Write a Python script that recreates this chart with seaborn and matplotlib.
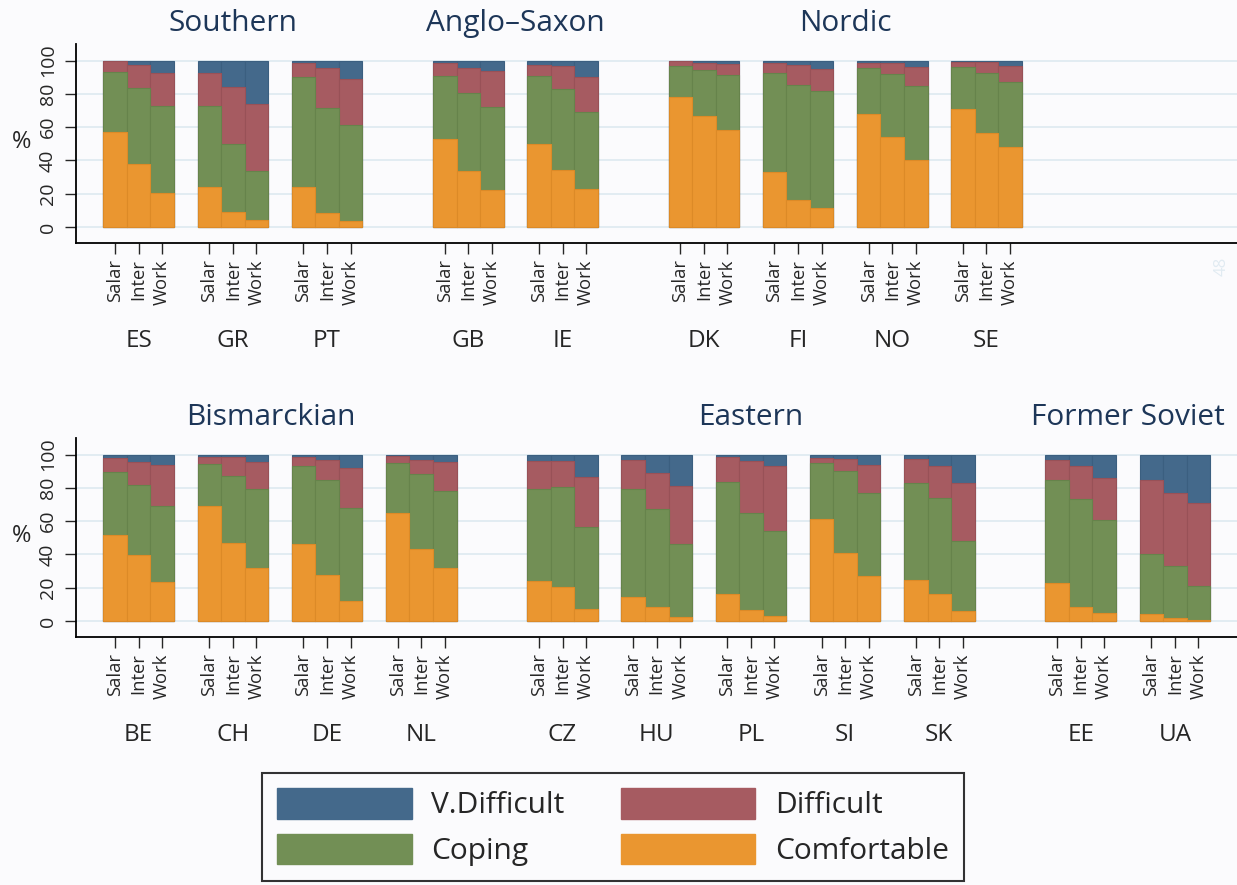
import matplotlib
matplotlib.use("Agg")
import matplotlib.pyplot as plt
from matplotlib.patches import Patch
from matplotlib.transforms import blended_transform_factory
import numpy as np
import seaborn as sns

sns.set_style("ticks")
plt.rcParams["font.family"] = ["Open Sans", "DejaVu Sans"]

# ---- data: shares (%) per country, in order Salar / Inter / Work ----
measures = ["Salar", "Inter", "Work"]
categories = ["V.Difficult", "Difficult", "Coping", "Comfortable"]

top_countries = ["ES", "GR", "PT", "GB", "IE", "DK", "FI", "NO", "SE"]
top_starts = [1, 5, 9, 15, 19, 25, 29, 33, 37]
top_regimes = [("Southern", ["ES", "GR", "PT"]),
               ("Anglo\u2013Saxon", ["GB", "IE"]),
               ("Nordic", ["DK", "FI", "NO", "SE"])]
top_comfortable = [57.1, 38.1, 20.2, 23.8, 9.0, 4.0, 23.8, 8.4, 3.6,
                   52.9, 33.7, 22.0, 49.7, 34.1, 22.8,
                   78.4, 66.5, 58.3, 32.9, 16.4, 11.4, 67.7, 54.3, 40.1, 70.9, 56.5, 47.9]
top_coping = [36.3, 45.5, 52.3, 49.1, 40.9, 29.5, 66.2, 63.1, 57.5,
              37.9, 46.9, 49.9, 41.1, 48.9, 46.5,
              18.2, 27.7, 33.1, 59.5, 69.2, 70.2, 27.7, 37.7, 44.5, 25.1, 36.1, 39.5]
top_difficult = [6.1, 13.8, 20.3, 19.9, 34.1, 40.4, 8.6, 23.9, 27.9,
                 7.8, 15.0, 22.1, 6.6, 14.0, 20.7,
                 2.9, 4.4, 6.8, 6.2, 11.6, 13.6, 3.2, 6.6, 11.4, 3.2, 6.4, 9.2]
top_vdifficult = [0.5, 2.6, 7.2, 7.2, 16.0, 26.1, 1.4, 4.6, 11.0,
                  1.4, 4.4, 6.0, 2.6, 3.0, 10.0,
                  0.5, 1.4, 1.8, 1.4, 2.8, 4.8, 1.4, 1.4, 4.0, 0.8, 1.0, 3.4]

bottom_countries = ["BE", "CH", "DE", "NL", "CZ", "HU", "PL", "SI", "SK", "EE", "UA"]
bottom_starts = [1, 5, 9, 13, 19, 23, 27, 31, 35, 41, 45]
bottom_regimes = [("Bismarckian", ["BE", "CH", "DE", "NL"]),
                  ("Eastern", ["CZ", "HU", "PL", "SI", "SK"]),
                  ("Former Soviet", ["EE", "UA"])]
bottom_comfortable = [51.9, 39.7, 23.4, 69.1, 46.7, 32.1, 46.5, 27.7, 12.2, 65.1, 43.1, 31.9,
                      23.8, 20.4, 7.2, 14.4, 8.6, 2.4, 16.4, 6.8, 3.2, 61.1, 40.9, 26.9,
                      24.4, 16.2, 6.0, 22.8, 8.4, 5.0, 4.0, 2.0, 0.5]
bottom_coping = [37.9, 42.1, 45.5, 25.3, 40.7, 47.3, 46.9, 56.9, 55.9, 29.9, 45.1, 46.5,
                 55.4, 60.4, 49.1, 65.2, 58.5, 43.9, 67.2, 57.9, 51.1, 33.7, 49.3, 50.3,
                 58.4, 57.7, 42.3, 62.0, 65.1, 55.7, 36.5, 31.1, 20.3]
bottom_difficult = [8.4, 13.8, 24.7, 4.0, 11.0, 16.0, 5.4, 12.4, 23.9, 4.0, 8.6, 17.0,
                    16.8, 15.4, 30.5, 17.2, 21.7, 34.7, 15.0, 31.5, 39.1, 3.2, 7.4, 16.6,
                    14.4, 19.3, 34.7, 12.2, 19.9, 25.3, 44.3, 44.1, 50.1]
bottom_vdifficult = [1.8, 4.4, 6.4, 1.6, 1.6, 4.6, 1.2, 3.0, 8.0, 1.0, 3.2, 4.6,
                     4.0, 3.8, 13.2, 3.2, 11.2, 19.0, 1.4, 3.8, 6.6, 2.0, 2.4, 6.2,
                     2.8, 6.8, 17.0, 3.0, 6.6, 14.0, 15.2, 22.8, 29.1]

colors = {"V.Difficult": "#44698b", "Difficult": "#a65b61",
          "Coping": "#728f55", "Comfortable": "#ea9630"}
edge_colors = {"V.Difficult": "#3b5f80", "Difficult": "#985157",
               "Coping": "#66834b", "Comfortable": "#dc8a27"}
title_color = "#1d3658"
bg = "#fbfbfd"

W, H = 1237, 885
fig = plt.figure(figsize=(W / 100, H / 100), dpi=100, facecolor=bg)


def px_axes(left, top, right, bottom):
    return fig.add_axes([left / W, 1 - bottom / H, (right - left) / W, (bottom - top) / H])


def draw_panel(ax, countries, starts, regimes, comf, cop, dif, vdif,
               title_shift=None, extra_label=None):
    ax.set_facecolor(bg)
    comf = np.array(comf)
    cop = np.array(cop)
    dif = np.array(dif)
    vdif = np.array(vdif)
    pos = np.array([s + k for s in starts for k in range(3)], dtype=float)
    layers = [("V.Difficult", comf + cop + dif + vdif),
              ("Difficult", comf + cop + dif),
              ("Coping", comf + cop),
              ("Comfortable", comf)]
    for name, heights in layers:
        sns.barplot(x=pos, y=heights, native_scale=True, width=1.0,
                    color=colors[name], edgecolor=edge_colors[name],
                    linewidth=0.8, errorbar=None, saturation=1, ax=ax)
    ax.set_xlim(-0.66, 48.64)
    ax.set_ylim(-9.6, 110.0)
    ax.set_yticks([0, 20, 40, 60, 80, 100])
    ax.set_yticklabels(["0", "20", "40", "60", "80", "100"])
    ax.set_xticks(pos)
    ax.set_xticklabels(measures * len(countries), rotation=90)
    ax.tick_params(axis="y", length=7.7, width=1.0, pad=8.8, labelsize=14)
    ax.tick_params(axis="x", length=7.7, width=1.0, pad=4, labelsize=13.2)
    # vertical value labels, baseline sitting just left of the tick marks
    for lbl in ax.get_yticklabels():
        lbl.set_rotation(90)
        lbl.set_rotation_mode("anchor")
        lbl.set_horizontalalignment("center")
        lbl.set_verticalalignment("baseline")
    ax.yaxis.grid(True, color="#dde9f0", linewidth=1.2)
    ax.xaxis.grid(False)
    ax.set_axisbelow(True)
    for side in ("top", "right"):
        ax.spines[side].set_visible(False)
    for side in ("left", "bottom"):
        ax.spines[side].set_linewidth(1.3)
        ax.spines[side].set_color("black")
    ax.set_xlabel("")
    ax.set_ylabel("")
    ax.text(-0.047, 0.51, "%", transform=ax.transAxes, fontsize=17,
            ha="center", va="center")

    tr = blended_transform_factory(ax.transData, ax.transAxes)
    centre = {c: s + 1 for c, s in zip(countries, starts)}
    for c in countries:
        ax.text(centre[c], -0.49, c, transform=tr, fontsize=17.5,
                ha="center", va="center")
    for i, (name, members) in enumerate(regimes):
        lo = min(centre[m] for m in members) - 1.5
        hi = max(centre[m] for m in members) + 1.5
        shift = title_shift[i] if title_shift else 0.0
        ax.text((lo + hi) / 2 + shift, 1.105, name, transform=tr, fontsize=21.5,
                color=title_color, ha="center", va="center")
    if extra_label is not None:
        ax.text(extra_label, -0.07, str(extra_label), transform=tr, fontsize=12,
                rotation=90, ha="center", va="top", color="#e1ebf2")


ax_top = px_axes(76, 44, 1237, 243)
draw_panel(ax_top, top_countries, top_starts, top_regimes,
           top_comfortable, top_coping, top_difficult, top_vdifficult, extra_label=48)

ax_bot = px_axes(76, 438, 1237, 637)
draw_panel(ax_bot, bottom_countries, bottom_starts, bottom_regimes,
           bottom_comfortable, bottom_coping, bottom_difficult, bottom_vdifficult,
           title_shift=[-0.4, 0.0, 0.0])

handles = [Patch(facecolor=colors[c], edgecolor=colors[c], label=c)
           for c in ["V.Difficult", "Coping", "Difficult", "Comfortable"]]
leg = fig.legend(handles=handles, ncol=2, loc="center",
                 bbox_to_anchor=(613 / W, 1 - 827 / H),
                 fontsize=21.5, frameon=True, fancybox=False,
                 handlelength=4.5, handleheight=1.2, handletextpad=0.65,
                 columnspacing=1.9, labelspacing=0.45, borderpad=0.5)
leg.get_frame().set_edgecolor("black")
leg.get_frame().set_linewidth(1.5)
leg.get_frame().set_facecolor(bg)

fig.savefig("out.png", dpi=100, facecolor=bg)
